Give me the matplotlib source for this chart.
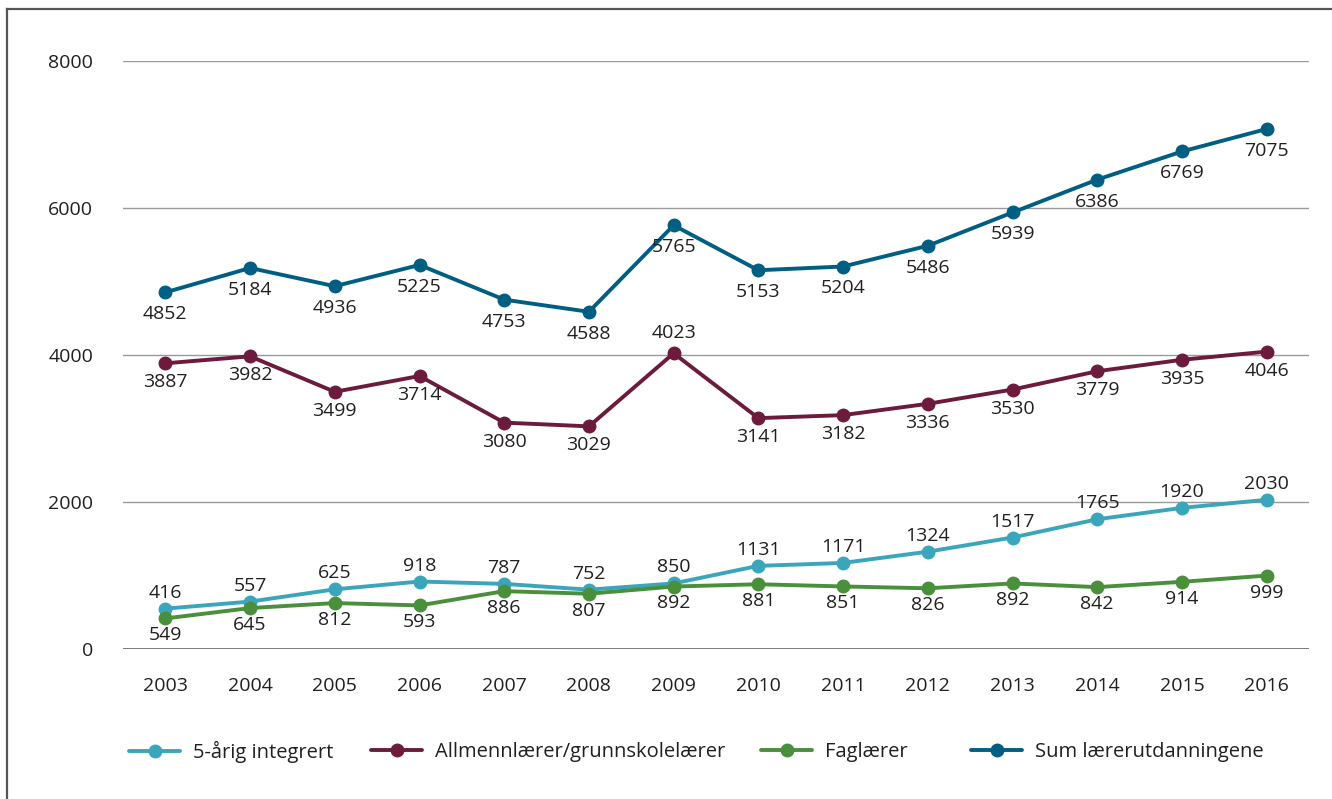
import numpy as np
import matplotlib
matplotlib.use("Agg")
import matplotlib.pyplot as plt
from matplotlib.lines import Line2D

years = [2003, 2004, 2005, 2006, 2007, 2008, 2009, 2010, 2011, 2012, 2013, 2014, 2015, 2016]

integrert = [549, 645, 812, 918, 886, 807, 892, 1131, 1171, 1324, 1517, 1765, 1920, 2030]
allmenn = [3887, 3982, 3499, 3714, 3080, 3029, 4023, 3141, 3182, 3336, 3530, 3779, 3935, 4046]
faglaerer = [416, 557, 625, 593, 787, 752, 850, 881, 851, 826, 892, 842, 914, 999]
sum_total = [4852, 5184, 4936, 5225, 4753, 4588, 5765, 5153, 5204, 5486, 5939, 6386, 6769, 7075]

# labels as printed in the source chart (upper / lower pair around the two low series)
labels_upper = [416, 557, 625, 918, 787, 752, 850, 1131, 1171, 1324, 1517, 1765, 1920, 2030]
labels_lower = [549, 645, 812, 593, 886, 807, 892, 881, 851, 826, 892, 842, 914, 999]
allmenn_label_above = [2009]

names = ["5-årig integrert", "Allmennlærer/grunnskolelærer", "Faglærer", "Sum lærerutdanningene"]
colors = ["#3ba6bb", "#6c1b3d", "#4a8f3c", "#005e82"]
legend_x = [129, 371, 761, 971]

plt.rcParams['font.family'] = ['Open Sans', 'DejaVu Sans']
fs = 14
fs_leg = 14.5
txt_col = "#231f20"

fig = plt.figure(figsize=(13.32, 7.99), dpi=100)
ax = fig.add_axes([123/1332, 1-649/799, (1309-123)/1332, (649-61)/799])

x = np.arange(len(years))
series = [integrert, allmenn, faglaerer, sum_total]
handles = []
for s, c in zip(series, colors):
    h, = ax.plot(x, s, color=c, lw=2.8, marker='o', ms=9, solid_capstyle='round', zorder=3)
    handles.append(h)

ax.set_xlim(-0.5, len(years) - 0.5)
ax.set_ylim(0, 8000)
ax.set_yticks([0, 2000, 4000, 6000, 8000])
ax.set_xticks(x)
ax.set_xticklabels([str(y) for y in years])
ax.tick_params(axis='both', length=0, labelsize=fs, labelcolor=txt_col)
ax.tick_params(axis='y', pad=21.5)
ax.tick_params(axis='x', pad=20)
for sp in ax.spines.values():
    sp.set_visible(False)
for v in [2000, 4000, 6000, 8000]:
    ax.axhline(v, color="#9a9a9a", lw=1.0, zorder=1)
ax.axhline(0, color="#666666", lw=1.2, zorder=1)

# data labels
for i in range(len(years)):
    hi = max(integrert[i], faglaerer[i])
    lo = min(integrert[i], faglaerer[i])
    ax.annotate(str(labels_upper[i]), (x[i], hi), xytext=(0, 11.5), textcoords='offset points',
                ha='center', va='center', fontsize=fs, color=txt_col)
    ax.annotate(str(labels_lower[i]), (x[i], lo), xytext=(0, -12.2), textcoords='offset points',
                ha='center', va='center', fontsize=fs, color=txt_col)
    ax.annotate(str(sum_total[i]), (x[i], sum_total[i]), xytext=(0, -15.8), textcoords='offset points',
                ha='center', va='center', fontsize=fs, color=txt_col)
    dy = 14.4 if years[i] in allmenn_label_above else -13.7
    ax.annotate(str(allmenn[i]), (x[i], allmenn[i]), xytext=(0, dy), textcoords='offset points',
                ha='center', va='center', fontsize=fs, color=txt_col)

# legend, one entry per position
for h, name, lx in zip(handles, names, legend_x):
    fig.legend([h], [name], loc='center left', bbox_to_anchor=(lx/1332, 1-752/799),
               frameon=False, borderpad=0, borderaxespad=0, handlelength=2.55,
               handletextpad=0.62, fontsize=fs_leg, labelcolor=txt_col)

# frame lines at left and top
fig.add_artist(Line2D([7/1332, 7/1332], [0, 1-9/799], color="#555555", lw=1.6))
fig.add_artist(Line2D([7/1332, 1], [1-9/799, 1-9/799], color="#555555", lw=1.6))

fig.savefig("out.png", dpi=100)
